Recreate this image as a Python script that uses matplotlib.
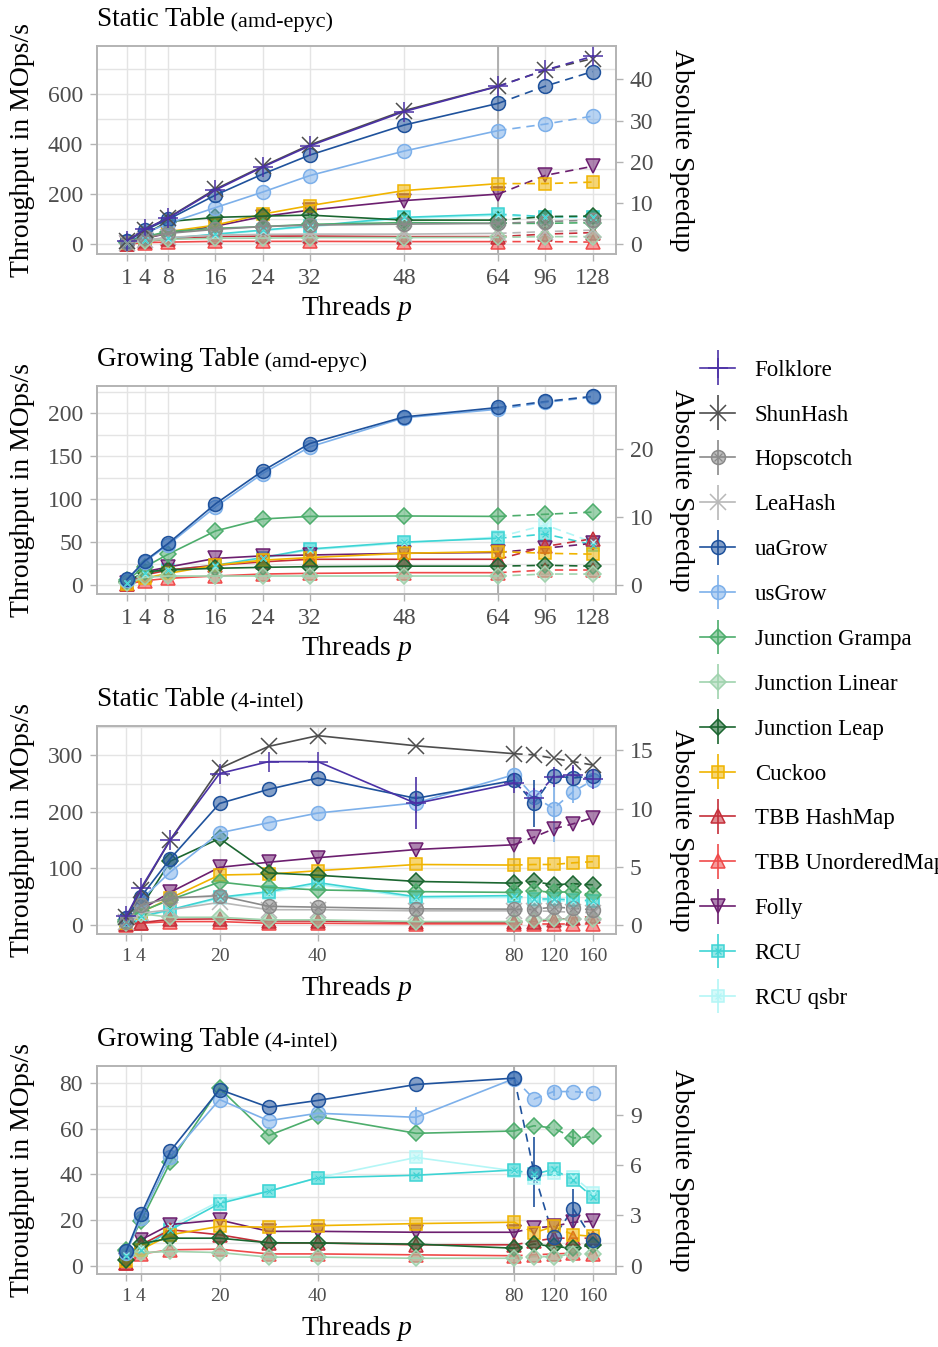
import matplotlib
matplotlib.use("Agg")
import matplotlib.pyplot as plt
import numpy as np
from matplotlib.colors import to_rgba
from matplotlib.container import ErrorbarContainer
from matplotlib.legend_handler import HandlerErrorbar, HandlerTuple
from matplotlib.ticker import MultipleLocator, NullLocator

plt.rcParams.update({
    "font.family": ["Liberation Serif", "DejaVu Serif"],
    "mathtext.fontset": "custom",
    "mathtext.rm": "Liberation Serif",
    "mathtext.it": "Liberation Serif:italic",
})

# ── Dados ────────────────────────────────────────────────────────────────────

THREADS_AMD   = [1, 4, 8, 16, 24, 32, 48, 64, 96, 128]
THREADS_INTEL = [1, 4, 10, 20, 30, 40, 60, 80, 100, 120, 140, 160]
TICKS_AMD     = [1, 4, 8, 16, 24, 32, 48, 64, 96, 128]
TICKS_INTEL   = [1, 4, 20, 40, 80, 120, 160]

NAMES = ["Folklore", "ShunHash", "Hopscotch", "LeaHash", "uaGrow", "usGrow",
         "Junction Grampa", "Junction Linear", "Junction Leap", "Cuckoo",
         "TBB HashMap", "TBB UnorderedMap", "Folly", "RCU", "RCU qsbr"]

STATIC_AMD = {
    "Folklore":         [13, 60, 105, 217, 309, 394, 531, 632, 697, 752],
    "ShunHash":         [12, 58, 107, 221, 312, 398, 535, 633, 697, 743],
    "Hopscotch":        [7, 28, 44, 60, 71, 77, 81, 84, 91, 97],
    "LeaHash":          [4, 17, 28, 37, 40, 41, 41, 44, 51, 57],
    "uaGrow":           [13, 57, 100, 197, 281, 357, 477, 564, 633, 691],
    "usGrow":           [13, 44, 84, 147, 209, 275, 373, 455, 481, 513],
    "Junction Grampa":  [9, 31, 51, 64, 71, 80, 87, 84, 84, 87],
    "Junction Linear":  [4, 15, 20, 24, 25, 27, 27, 28, 31, 31],
    "Junction Leap":    [9, 41, 91, 108, 113, 117, 97, 97, 111, 113],
    "Cuckoo":           [7, 24, 51, 77, 121, 155, 215, 243, 243, 249],
    "TBB HashMap":      [3, 12, 20, 31, 33, 33, 31, 31, 41, 47],
    "TBB UnorderedMap": [1, 7, 9, 12, 12, 12, 11, 11, 11, 9],
    "Folly":            [4, 24, 44, 73, 111, 137, 175, 201, 276, 312],
    "RCU":              [4, 17, 24, 41, 57, 73, 108, 121, 111, 111],
    "RCU qsbr":         [4, 16, 23, 39, 55, 70, 104, 116, 108, 108],
}

GROWING_AMD = {
    "uaGrow":           [6.6, 28, 48.6, 94.6, 133, 165, 196, 207, 214, 220],
    "usGrow":           [6, 27, 47, 91, 130, 161, 195, 205, 213, 219],
    "Junction Grampa":  [6, 21, 36, 63, 77, 80, 80.5, 80, 82.5, 85],
    "Junction Linear":  [2, 9, 10.5, 10.5, 10.5, 10.5, 10.5, 10.5, 12.8, 12.8],
    "Junction Leap":    [3.5, 15.5, 17.5, 19.5, 20.6, 21.4, 22, 22, 23, 22],
    "Cuckoo":           [1, 8, 13.6, 23, 29, 32, 37, 39, 37, 36],
    "TBB HashMap":      [1, 11.7, 17.5, 23, 27, 30, 30, 30, 45, 54],
    "TBB UnorderedMap": [1, 5, 7.8, 10.5, 12.8, 13.6, 14.4, 14.4, 17.5, 17.5],
    "Folly":            [2, 15.5, 21, 31, 34, 35, 37, 38, 43, 48.6],
    "RCU":              [2, 14, 17.5, 23, 32, 42, 50, 54.5, 59.5, 47],
    "RCU qsbr":         [2, 13, 17, 22, 31, 41, 49, 56, 70, 50],
}

STATIC_INTEL = {
    "Folklore":         [15, 65, 151, 268, 289, 289, 215, 251, 224, 262, 265, 258],
    "ShunHash":         [13.6, 62, 151, 277, 316, 335, 317, 303, 301, 295, 289, 283],
    "Hopscotch":        [6, 35.6, 47.5, 52, 33, 31.5, 28.5, 28, 28, 31.5, 29.7, 26.7],
    "LeaHash":          [5, 21, 27, 40, 27, 27, 25, 25, 25, 24, 22.5, 22],
    "uaGrow":           [12, 50, 117.5, 215, 240, 260, 224, 256, 215, 264, 260, 264],
    "usGrow":           [10, 44.5, 94, 163, 181, 198, 216, 266, 227, 206, 236, 256],
    "Junction Grampa":  [8, 24, 44.5, 76, 66.5, 62, 59, 57.6, 60.5, 57.6, 59, 53],
    "Junction Linear":  [3, 20, 13.6, 13.6, 9, 9, 6, 6, 9, 10, 10, 10],
    "Junction Leap":    [6, 31, 113, 153, 92, 88, 77, 74, 77, 71, 73, 71],
    "Cuckoo":           [3, 22, 47.5, 88.4, 90, 96, 107, 106, 107, 107, 110, 112],
    "TBB HashMap":      [1, 4, 10, 10.7, 7, 7, 4.7, 4.7, 6, 9, 12, 15],
    "TBB UnorderedMap": [0, 3, 6, 6, 3, 3, 2, 2, 2, 2, 2, 2],
    "Folly":            [3, 27, 58, 102, 111, 119, 133.5, 142, 155.5, 170, 179, 190],
    "RCU":              [3, 15, 27, 49, 59, 75, 50, 52, 46, 46, 44.5, 43],
    "RCU qsbr":         [3, 14, 26, 47, 57, 72, 48, 49, 43, 43, 42, 41],
}

GROWING_INTEL = {
    "uaGrow":           [6.2, 22.4, 50.3, 77.2, 69.4, 72.4, 79.4, 82.2, 41, 12.4, 24.9, 11.3],
    "usGrow":           [5.4, 21, 47.8, 72.8, 63.5, 66.8, 65, 82, 73, 76.3, 76.3, 75.6],
    "Junction Grampa":  [6.9, 19.4, 45.4, 77.8, 57, 65.4, 58, 59, 61.3, 60.3, 55.9, 56.6],
    "Junction Linear":  [6.5, 5.7, 6.2, 5.7, 3.7, 3.7, 3.2, 3.2, 3.9, 3.9, 5.1, 5.1],
    "Junction Leap":    [2.5, 9.6, 12, 12, 10, 9.9, 9.4, 7.6, 9.4, 8.4, 7.6, 9.1],
    "Cuckoo":           [1.8, 7, 13.5, 17.2, 16.8, 17.5, 18.4, 19, 14.3, 17.2, 13.5, 12.8],
    "TBB HashMap":      [1.3, 9.1, 15.7, 13.5, 9.9, 9.9, 9.1, 9.1, 10.6, 12, 12, 12],
    "TBB UnorderedMap": [1, 5.1, 6.9, 7.2, 5.1, 5.1, 4.7, 4.3, 4.7, 5.1, 5.4, 5.1],
    "Folly":            [2.5, 11.3, 18, 20, 15, 15, 14.6, 14.6, 16.5, 17.2, 19, 19.4],
    "RCU":              [4, 7, 15.7, 27.2, 32.6, 38.5, 39.6, 41.9, 40, 42.2, 37.4, 30],
    "RCU qsbr":         [4.5, 7.5, 17.2, 28.2, 32.6, 38.5, 47.4, 41.5, 38.5, 40.5, 39, 31.9],
}

# desvios (threads -> +-MOps/s), só onde aparecem
ERR_STATIC_INTEL  = {"Folklore": {60: 46, 140: 15}, "uaGrow": {100: 41},
                     "usGrow": {80: 12, 120: 60, 140: 20}}
ERR_GROWING_INTEL = {"uaGrow": {100: 15.5, 140: 8.5}, "usGrow": {60: 4.4, 120: 2},
                     "Junction Grampa": {140: 4}}

# ── Estilo ───────────────────────────────────────────────────────────────────

COLORS = {
    "Folklore": "#4B31A6", "ShunHash": "#4D4D4D", "Hopscotch": "#8A8A8A",
    "LeaHash": "#B8B8B8", "uaGrow": "#1F529C", "usGrow": "#7DB0EA",
    "Junction Grampa": "#4DAD6C", "Junction Linear": "#A0D3AE",
    "Junction Leap": "#1B6630", "Cuckoo": "#F0B400", "TBB HashMap": "#C52F3A",
    "TBB UnorderedMap": "#F04A4A", "Folly": "#6C1F6F", "RCU": "#3ED4D4",
    "RCU qsbr": "#B4F6F6",
}
MARKERS = {
    "Folklore": ("+", 14), "ShunHash": ("x", 11), "Hopscotch": ("o", 10),
    "LeaHash": ("x", 11), "uaGrow": ("o", 10), "usGrow": ("o", 10),
    "Junction Grampa": ("D", 8), "Junction Linear": ("D", 8), "Junction Leap": ("D", 8),
    "Cuckoo": ("s", 9), "TBB HashMap": ("^", 10), "TBB UnorderedMap": ("^", 10),
    "Folly": ("v", 10), "RCU": ("s", 9), "RCU qsbr": ("s", 9),
}
CROSSED = {"Hopscotch", "RCU", "RCU qsbr"}

GRID = "#E4E4E4"
FRAME = "#B3B3B3"
TXT = "#4D4D4D"


def hyper_scale(cut, shrink):
    def fwd(p):
        p = np.asarray(p, float)
        return np.where(p <= cut, p, cut + (p - cut) / shrink)

    def inv(q):
        q = np.asarray(q, float)
        return np.where(q <= cut, q, cut + (q - cut) * shrink)
    return fwd, inv


handles = {}


def painel(ax, threads, data, errs, cut, shrink, xticks, xlim, ylim, ystep,
           rfactor, rticks, titulo, maquina, xtick_size):
    ax.set_xscale("function", functions=hyper_scale(cut, shrink))
    x = np.array(threads, float)
    k = threads.index(cut)

    for name in reversed(NAMES):
        if name not in data:
            continue
        y = np.array(data[name], float)
        e = np.zeros_like(y)
        for p, v in errs.get(name, {}).items():
            e[threads.index(p)] = v
        c = COLORS[name]
        mk, ms = MARKERS[name]
        kw = dict(marker=mk, ms=ms, mfc=to_rgba(c, 0.55), mec=c, mew=1.1,
                  color=c, lw=1.2, ecolor=c, elinewidth=1.2, capsize=0, zorder=3)
        h = ax.errorbar(x[:k + 1], y[:k + 1], yerr=e[:k + 1], ls="-", **kw)
        ax.plot(x[k:], y[k:], ls=(0, (5, 3.5)), color=c, lw=1.2, zorder=3)
        ax.errorbar(x[k + 1:], y[k + 1:], yerr=e[k + 1:], ls="none", **kw)
        if name in CROSSED:
            xm, = ax.plot(x, y, "x", ms=ms * 0.55, color=c, mew=0.9, zorder=4)
            h = (h, xm)
        handles.setdefault(name, h)

    ax.axvline(cut, color="#ABABAB", lw=1.3, zorder=1.5)

    ax.set_xlim(*xlim)
    ax.set_xticks(xticks)
    ax.set_xticklabels([str(t) for t in xticks])
    ax.xaxis.set_minor_locator(NullLocator())
    ax.set_ylim(*ylim)
    ax.yaxis.set_major_locator(MultipleLocator(ystep))
    ax.yaxis.set_minor_locator(MultipleLocator(ystep / 2))
    ax.set_axisbelow(True)
    ax.grid(True, which="both", axis="y", color=GRID, lw=1.0)
    ax.grid(True, which="major", axis="x", color=GRID, lw=1.0)
    ax.tick_params(axis="both", which="major", color=FRAME, length=5, width=1,
                   labelcolor=TXT, labelsize=17, pad=5)
    ax.tick_params(axis="x", labelsize=xtick_size)
    ax.tick_params(which="minor", length=0)
    for s in ax.spines.values():
        s.set_color(FRAME)
        s.set_linewidth(1.2)

    ax.set_ylabel("Throughput in MOps/s", fontsize=20)
    ax.yaxis.set_label_coords(-0.12, 0.5)
    ax.set_xlabel("Threads $p$", fontsize=20)
    ax.xaxis.set_label_coords(0.5, -0.19)

    ax2 = ax.twinx()
    ax2.set_ylim(ylim[0] / rfactor, ylim[1] / rfactor)
    ax2.set_yticks(rticks)
    ax2.tick_params(axis="y", color=FRAME, length=5, width=1, labelcolor=TXT,
                    labelsize=17, pad=5)
    for s in ax2.spines.values():
        s.set_color(FRAME)
        s.set_linewidth(1.2)
    ax2.set_ylabel("Absolute Speedup", fontsize=20, rotation=270, va="center")
    ax2.yaxis.set_label_coords(1.127, 0.5)

    t = ax.text(0, 1.095, titulo, transform=ax.transAxes, fontsize=19.5,
                va="baseline", ha="left")
    ax.annotate(" (" + maquina + ")", xy=(1, 0), xycoords=t, fontsize=16,
                va="bottom", ha="left")


fig = plt.figure(figsize=(9.38, 13.47), dpi=100)
W, H = 0.5533, 0.1544
ax1 = fig.add_axes([0.1034, 0.8114, W, H])
ax2 = fig.add_axes([0.1034, 0.5590, W, H])
ax3 = fig.add_axes([0.1034, 0.3066, W, H])
ax4 = fig.add_axes([0.1034, 0.0542, W, H])

painel(ax1, THREADS_AMD, STATIC_AMD, {}, 64, 4, TICKS_AMD, (-4.1, 143.9),
       (-38.7, 793), 200, 16.5, [0, 10, 20, 30, 40], "Static Table", "amd-epyc", 17)
painel(ax2, THREADS_AMD, GROWING_AMD, {}, 64, 4, TICKS_AMD, (-4.1, 143.9),
       (-10.5, 232), 50, 7.95, [0, 10, 20], "Growing Table", "amd-epyc", 17)
painel(ax3, THREADS_INTEL, STATIC_INTEL, ERR_STATIC_INTEL, 80, 5, TICKS_INTEL,
       (-4.95, 183.5), (-16, 352), 100, 20.6, [0, 5, 10, 15],
       "Static Table", "4-intel", 14)
painel(ax4, THREADS_INTEL, GROWING_INTEL, ERR_GROWING_INTEL, 80, 5, TICKS_INTEL,
       (-4.95, 183.5), (-3.7, 87.5), 20, 7.35, [0, 3, 6, 9],
       "Growing Table", "4-intel", 14)

# a última entrada fica cortada na borda direita, como no original
fig.legend([handles[n] for n in NAMES], NAMES, loc="upper left",
           bbox_to_anchor=(0.746, 0.733), frameon=False, fontsize=16.5,
           borderpad=0, borderaxespad=0, handlelength=1.55, handletextpad=0.85,
           labelspacing=1.04,
           handler_map={ErrorbarContainer: HandlerErrorbar(xerr_size=0.5, yerr_size=0.76),
                        tuple: HandlerTuple(ndivide=1, pad=0)})

fig.savefig("out.png", dpi=100, facecolor="white")
